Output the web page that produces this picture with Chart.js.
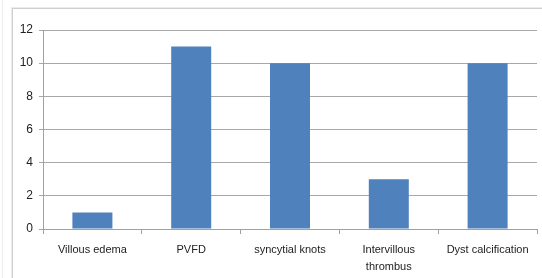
<!DOCTYPE html>
<html>
<head>
<meta charset="utf-8">
<script src="https://cdn.jsdelivr.net/npm/chart.js@4"></script>
<style>
  html, body { margin: 0; padding: 0; background: #fff; }
  #wrap { position: relative; width: 542px; height: 278px; overflow: hidden; }
  #frame { position: absolute; left: 12px; top: 8px; width: 560px; height: 300px;
           border-left: 1px solid #cfcfcf; border-top: 1px solid #cfcfcf;
           box-shadow: -1px -1px 0 #ececec; }
  #edge { position: absolute; left: 2px; top: 0; width: 1px; height: 278px; background: #ececec; }
  canvas { position: absolute; left: 0; top: 0; }
</style>
</head>
<body>
<div id="wrap">
  <div id="edge"></div>
  <div id="frame"></div>
  <canvas id="chart" width="542" height="278"></canvas>
</div>
<script>
// categories and counts
const categories = ['Villous edema', 'PVFD', 'syncytial knots', ['Intervillous', 'thrombus'], 'Dyst calcification'];
const counts = [1, 11, 10, 3, 10];
const yTicks = [0, 2, 4, 6, 8, 10, 12];

const font = { family: "'Liberation Sans', Arial, sans-serif", size: 11, lineHeight: 1.6 };

const ctx = document.getElementById('chart').getContext('2d');
new Chart(ctx, {
  type: 'bar',
  data: {
    labels: categories,
    datasets: [{
      data: counts,
      backgroundColor: '#4F81BD',
      borderWidth: 0,
      barPercentage: 0.405,
      categoryPercentage: 1
    }]
  },
  options: {
    responsive: false,
    animation: false,
    layout: { padding: { left: 0, right: 5, top: 30, bottom: 0 } },
    plugins: { legend: { display: false }, tooltip: { enabled: false } },
    scales: {
      x: {
        grid: { offset: true, drawOnChartArea: false, drawTicks: true, tickLength: 5, color: '#a0a0a0' },
        border: { display: true, color: '#a0a0a0' },
        ticks: { color: '#222', font: font, padding: 7, maxRotation: 0, autoSkip: false },
        afterFit: s => { s.height = 49; }
      },
      y: {
        min: 0,
        max: 12,
        afterBuildTicks: s => { s.ticks = yTicks.map(v => ({ value: v })); },
        grid: { color: '#a8a8a8', tickLength: 4 },
        border: { display: true, color: '#a0a0a0' },
        ticks: { color: '#222', font: { family: font.family, size: 12 }, padding: 6 },
        afterFit: s => { s.width = 43; }
      }
    }
  }
});
</script>
</body>
</html>
